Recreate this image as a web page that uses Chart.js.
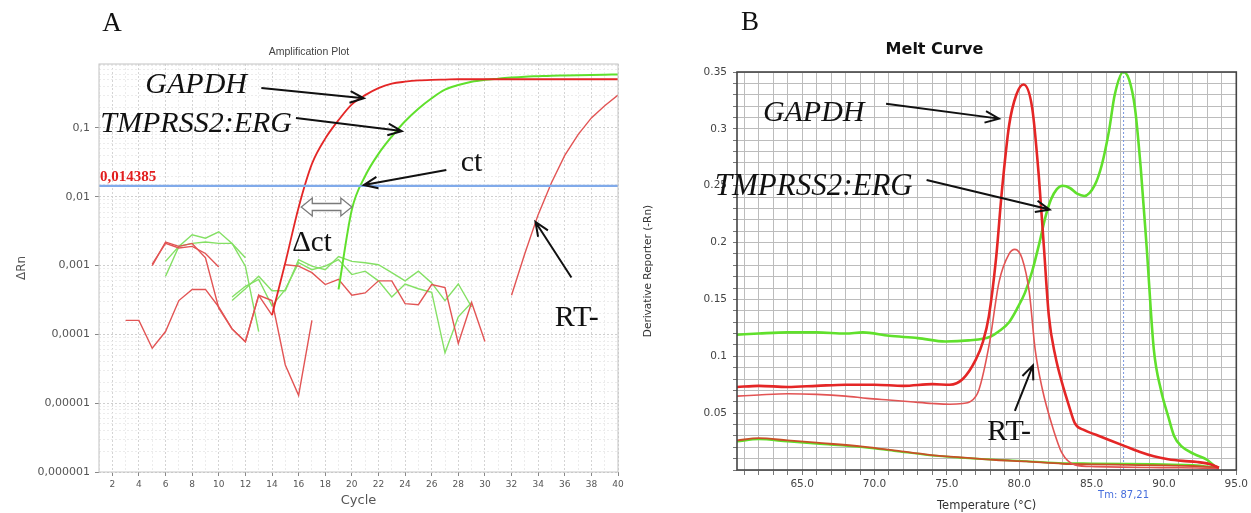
<!DOCTYPE html>
<html>
<head>
<meta charset="utf-8">
<script src="https://cdn.jsdelivr.net/npm/chart.js@4.4.1/dist/chart.umd.min.js"></script>
<style>
  html, body { margin: 0; padding: 0; background: #fff; }
  body { width: 1251px; height: 513px; position: relative; overflow: hidden; }
  .panel { position: absolute; top: 0; height: 513px; }
  #panelA { left: 0; width: 630px; }
  #panelB { left: 630px; width: 621px; }
</style>
</head>
<body>
<div class="panel" id="panelA"><canvas id="amp" width="630" height="513"></canvas></div>
<div class="panel" id="panelB"><canvas id="melt" width="621" height="513"></canvas></div>
<script>
// ---- A: amplification plot (cycle -> ΔRn, log scale) ----
const yTickValues = [1e-6, 1e-5, 1e-4, 1e-3, 1e-2, 1e-1];
const yTickLabels = ['0,000001', '0,00001', '0,0001', '0,001', '0,01', '0,1'];
const threshold = 0.014385;
const thresholdLabel = '0,014385';

// each series: first cycle + ΔRn per cycle (null = below zero, not drawn)
const gapdhBaseStart = 5;
const gapdhBase = [0.001, 0.0022, 0.0019, 0.0021, 0.0013, 0.00024, 0.00012, 0.000078, 0.00037, 0.00019];
const gapdhAmpStart = 14;
const gapdhAmp = [0.00019, 0.0011, 0.007, 0.03, 0.07, 0.13, 0.22, 0.3, 0.38, 0.44, 0.47, 0.49, 0.5, 0.505,
  0.51, 0.51, 0.51, 0.51, 0.51, 0.51, 0.51, 0.51, 0.51, 0.51, 0.51, 0.51, 0.51];
const redNoise1Start = 5;
const redNoise1 = [0.00105, 0.0021, 0.0018, 0.0019, 0.0015, 0.00095];
const redNoise2Start = 3;
const redNoise2 = [0.00016, 0.00016, 0.000063, 0.00011, 0.00031, 0.00045, 0.00045, 0.00025, 0.00012,
  0.000078, 0.00037, 0.00031, 0.000036, 0.000013, 0.00016];
const rtMinusStart = 15;
const rtMinus = [0.00103, 0.00098, 0.00079, 0.00053, 0.00063, 0.00037, 0.0004, 0.0006, 0.0006, 0.00028,
  0.00027, 0.00053, 0.00048, 0.000074, 0.00029, 0.000079, null,
  0.00037, 0.0015, 0.0055, 0.016, 0.04, 0.08, 0.14, 0.21, 0.3];
const greenNoise1Start = 6;
const greenNoise1 = [0.0007, 0.0019, 0.0028, 0.0025, 0.0031, 0.0021, 0.0013];
const greenNoise2Start = 6;
const greenNoise2 = [0.00115, 0.0019, 0.0021, 0.0022, 0.0021, 0.0021, 0.00098, 0.00011];
const greenNoise3Start = 11;
const greenNoise3 = [0.00031, 0.00046, 0.0007, 0.00043, 0.00043, 0.00122, 0.00098, 0.00087, 0.00135,
  0.00115, 0.0011, 0.00103, 0.00079, 0.0006, 0.00083, 0.00056, 0.00031, 0.00054, 0.00025];
const greenNoise4Start = 11;
const greenNoise4 = [0.00035, 0.0005, 0.00063, 0.00026, 0.00045, 0.0011, 0.00087, 0.00098, 0.00122,
  0.00074, 0.00083, 0.0006, 0.00035, 0.00054, 0.00046, 0.00041, 0.000054, 0.00018, 0.00029];
const tmprssAmpStart = 19;
const tmprssAmp = [0.00045, 0.0065, 0.02, 0.042, 0.075, 0.125, 0.19, 0.27, 0.36, 0.42,
  0.47, 0.5, 0.52, 0.54, 0.555, 0.565, 0.575, 0.58, 0.585, 0.59, 0.595, 0.6];

// ---- B: melt curve (temperature -> derivative reporter) ----
const gapdhMeltT = [60.5, 62, 64, 66, 68, 70, 72, 74, 75.2, 76.1, 77.0, 77.5, 77.9, 78.4, 78.8, 79.3, 79.8, 80.3,
  80.9, 81.35, 81.7, 82.05, 82.5, 82.95, 83.4, 83.85, 84.5, 85.3, 86.3, 87.3, 88.3, 89.3, 90.3, 91.3, 92.3, 93.2, 93.8];
const gapdhMelt = [0.073, 0.074, 0.073, 0.074, 0.075, 0.075, 0.074, 0.0755, 0.075, 0.08, 0.097, 0.113, 0.135, 0.186,
  0.245, 0.303, 0.33, 0.339, 0.318, 0.259, 0.197, 0.135, 0.1, 0.077, 0.058, 0.041, 0.035, 0.031, 0.026, 0.021,
  0.016, 0.012, 0.0095, 0.008, 0.007, 0.005, 0.002];
const rtMeltT = [60.5, 62, 64, 66, 68, 69.5, 71, 72.5, 74, 75.2, 76.1, 76.6, 77.2, 77.95, 78.6, 79.3, 79.7, 80.2,
  80.7, 81.1, 81.6, 82.3, 82.95, 83.85, 85.2, 87, 89, 91, 93, 93.8];
const rtMelt = [0.065, 0.066, 0.067, 0.0665, 0.065, 0.063, 0.0615, 0.06, 0.0585, 0.0578, 0.0585, 0.06, 0.07, 0.112,
  0.165, 0.19, 0.194, 0.186, 0.156, 0.106, 0.071, 0.038, 0.015, 0.0045, 0.003, 0.0025, 0.0022, 0.002, 0.0015, 0.001];
const tmprssMeltT = [60.5, 62, 64, 66, 68, 69.2, 71, 73, 74.9, 76.5, 77.95, 78.6, 79.3, 79.9, 80.4, 80.9, 81.4, 81.8,
  82.2, 82.6, 83.0, 83.5, 84.0, 84.5, 85.2, 85.7, 86.2, 86.6, 87.2, 87.6, 88.0, 88.4, 88.8, 89.3, 89.8, 90.3, 90.7,
  91.2, 92.1, 93.0, 93.5, 93.8];
const tmprssMelt = [0.119, 0.12, 0.121, 0.121, 0.12, 0.121, 0.118, 0.116, 0.113, 0.114, 0.117, 0.122, 0.13, 0.143,
  0.156, 0.175, 0.2, 0.222, 0.238, 0.247, 0.25, 0.248, 0.243, 0.241, 0.25, 0.268, 0.298, 0.33, 0.35, 0.343, 0.318,
  0.265, 0.197, 0.106, 0.07, 0.047, 0.03, 0.021, 0.014, 0.0088, 0.0035, 0.002];
const ntcMeltT = [60.5, 62, 64, 66, 69.2, 71.5, 73.8, 76, 78.4, 80.5, 83.0, 85, 87.5, 90, 92, 93.8];
const ntcRedMelt = [0.026, 0.028, 0.026, 0.024, 0.0206, 0.017, 0.0133, 0.011, 0.0088, 0.0075, 0.0055, 0.005,
  0.0045, 0.004, 0.0035, 0.002];
const ntcGreenMelt = [0.025, 0.027, 0.025, 0.023, 0.02, 0.0165, 0.013, 0.0108, 0.009, 0.0078, 0.006, 0.0058,
  0.0055, 0.005, 0.0045, 0.002];
const tm = 87.21;
const tmLabel = 'Tm: 87,21';

const RED = 'rgb(228,38,38)';
const RED_LIGHT = 'rgb(226,84,84)';
const GREEN = 'rgb(96,224,44)';
const GREEN_LIGHT = 'rgb(132,224,100)';
const SANS = "'DejaVu Sans', sans-serif";
const SERIF = "'Liberation Serif', serif";

const seg = (start, values) => values.map((v, i) => ({ x: start + i, y: v }));
const pairs = (xs, ys) => xs.map((x, i) => ({ x, y: ys[i] }));

function line(data, color, width, smooth, dash) {
  return {
    data, borderColor: color, backgroundColor: color, borderWidth: width,
    pointRadius: 0, fill: false, spanGaps: false, borderDash: dash || [],
    cubicInterpolationMode: smooth ? 'monotone' : 'default'
  };
}

function arrow(ctx, x1, y1, x2, y2) {
  const ang = Math.atan2(y2 - y1, x2 - x1), len = 15, spread = 0.4;
  ctx.beginPath();
  ctx.moveTo(x1, y1);
  ctx.lineTo(x2, y2);
  ctx.moveTo(x2 - len * Math.cos(ang - spread), y2 - len * Math.sin(ang - spread));
  ctx.lineTo(x2, y2);
  ctx.lineTo(x2 - len * Math.cos(ang + spread), y2 - len * Math.sin(ang + spread));
  ctx.strokeStyle = '#111';
  ctx.lineWidth = 2;
  ctx.stroke();
}

function hollowDouble(ctx, x1, x2, yc) {
  const h = 3.5, H = 9, L = 11;
  ctx.beginPath();
  ctx.moveTo(x1, yc);
  ctx.lineTo(x1 + L, yc - H);
  ctx.lineTo(x1 + L, yc - h);
  ctx.lineTo(x2 - L, yc - h);
  ctx.lineTo(x2 - L, yc - H);
  ctx.lineTo(x2, yc);
  ctx.lineTo(x2 - L, yc + H);
  ctx.lineTo(x2 - L, yc + h);
  ctx.lineTo(x1 + L, yc + h);
  ctx.lineTo(x1 + L, yc + H);
  ctx.closePath();
  ctx.fillStyle = '#fff';
  ctx.fill();
  ctx.strokeStyle = '#7a7a7a';
  ctx.lineWidth = 1.3;
  ctx.stroke();
}

// draws frame, notes and arrows on top of the plot
const notes = {
  id: 'notes',
  afterDraw(chart, args, o) {
    const { ctx, chartArea: a, scales: { x, y } } = chart;
    ctx.save();
    ctx.strokeStyle = o.box.color;
    ctx.lineWidth = o.box.width;
    ctx.strokeRect(a.left, a.top, a.right - a.left, a.bottom - a.top);
    (o.arrows || []).forEach(ar => arrow(ctx,
      x.getPixelForValue(ar.from[0]), y.getPixelForValue(ar.from[1]),
      x.getPixelForValue(ar.to[0]), y.getPixelForValue(ar.to[1])));
    if (o.double) hollowDouble(ctx, x.getPixelForValue(o.double.from), x.getPixelForValue(o.double.to),
      y.getPixelForValue(o.double.y));
    (o.texts || []).forEach(t => {
      ctx.font = t.font;
      ctx.fillStyle = t.color || '#111';
      ctx.textAlign = t.align || 'center';
      ctx.textBaseline = t.baseline || 'middle';
      const px = t.px !== undefined ? t.px : x.getPixelForValue(t.x);
      const py = t.py !== undefined ? t.py : y.getPixelForValue(t.y);
      ctx.fillText(t.text, px + (t.dx || 0), py + (t.dy || 0));
    });
    ctx.restore();
  }
};

const isDecade = v => yTickValues.findIndex(t => Math.abs(Math.log10(v) - Math.log10(t)) < 1e-6);

new Chart(document.getElementById('amp'), {
  type: 'line',
  data: {
    datasets: [
      line([{ x: 1, y: threshold }, { x: 40, y: threshold }], 'rgb(128,170,234)', 2.2),
      line(seg(gapdhAmpStart, gapdhAmp), RED, 1.8, true),
      line(seg(tmprssAmpStart, tmprssAmp), GREEN, 2, true),
      line(seg(rtMinusStart, rtMinus), RED_LIGHT, 1.4),
      line(seg(gapdhBaseStart, gapdhBase), RED_LIGHT, 1.4),
      line(seg(redNoise1Start, redNoise1), RED_LIGHT, 1.4),
      line(seg(redNoise2Start, redNoise2), RED_LIGHT, 1.4),
      line(seg(greenNoise1Start, greenNoise1), GREEN_LIGHT, 1.4),
      line(seg(greenNoise2Start, greenNoise2), GREEN_LIGHT, 1.4),
      line(seg(greenNoise3Start, greenNoise3), GREEN_LIGHT, 1.4),
      line(seg(greenNoise4Start, greenNoise4), GREEN_LIGHT, 1.4)
    ]
  },
  options: {
    responsive: false,
    animation: false,
    devicePixelRatio: 1,
    layout: { padding: { left: 0, right: 12, top: 0, bottom: 0 } },
    scales: {
      x: {
        type: 'linear', min: 1, max: 40,
        afterFit: s => { s.height = 41; },
        ticks: {
          stepSize: 1, autoSkip: false, maxRotation: 0, includeBounds: false, padding: 3,
          color: '#555', font: { family: SANS, size: 9 },
          callback: v => (v % 2 === 0 ? String(v) : '')
        },
        grid: {
          color: c => (c.tick && c.tick.value % 2 === 0 ? '#d4d4d4' : '#ececec'),
          tickColor: c => (c.tick && c.tick.value % 2 === 0 ? '#888' : 'rgba(0,0,0,0)'),
          tickLength: 4
        },
        border: { display: false, dash: [2, 2] },
        title: { display: true, text: 'Cycle', color: '#555', font: { family: SANS, size: 13 }, padding: { top: 0, bottom: 5 } }
      },
      y: {
        type: 'logarithmic', min: 1e-6, max: 0.85,
        afterFit: s => { s.width = 99; },
        ticks: {
          autoSkip: false, padding: 5, color: '#555', font: { family: SANS, size: 11 },
          callback: v => { const i = isDecade(v); return i >= 0 ? yTickLabels[i] : ''; }
        },
        grid: {
          color: c => (c.tick && isDecade(c.tick.value) >= 0 ? '#cfcfcf' : '#ececec'),
          tickColor: c => (c.tick && isDecade(c.tick.value) >= 0 ? '#888' : 'rgba(0,0,0,0)'),
          tickLength: 4
        },
        border: { display: false, dash: [2, 2] },
        title: { display: true, text: 'ΔRn', color: '#555', font: { family: SANS, size: 12 }, padding: { top: 15, bottom: 0 } }
      }
    },
    plugins: {
      legend: { display: false },
      tooltip: { enabled: false },
      title: {
        display: true, text: 'Amplification Plot', color: '#444',
        font: { family: "'Liberation Sans', sans-serif", size: 10.5, weight: 'normal' },
        padding: { top: 45.7, bottom: 5.7 }
      },
      notes: {
        box: { color: '#c4c4c4', width: 1 },
        arrows: [
          { from: [13.2, 0.38], to: [20.9, 0.27] },
          { from: [15.8, 0.14], to: [23.75, 0.09] },
          { from: [27.1, 0.0245], to: [20.9, 0.0148] },
          { from: [36.5, 0.00067], to: [33.8, 0.0043] }
        ],
        double: { from: 16.2, to: 20.0, y: 0.0071 },
        texts: [
          { text: 'A', px: 112, py: 24, font: `27px ${SERIF}` },
          { text: 'GAPDH', x: 8.3, y: 0.42, font: `italic 30px ${SERIF}` },
          { text: 'TMPRSS2:ERG', x: 8.3, y: 0.112, font: `italic 30px ${SERIF}` },
          { text: 'ct', x: 29.0, y: 0.031, font: `30px ${SERIF}` },
          { text: '\u0394ct', x: 17.0, y: 0.0021, font: `29px ${SERIF}` },
          { text: 'RT-', x: 36.9, y: 0.00017, font: `30px ${SERIF}` },
          { text: thresholdLabel, x: 1, y: threshold, dx: 1, dy: -1, align: 'left', baseline: 'bottom',
            color: 'rgb(226,30,30)', font: `bold 15px ${SERIF}` }
        ]
      }
    }
  },
  plugins: [notes]
});

new Chart(document.getElementById('melt'), {
  type: 'line',
  data: {
    datasets: [
      line(pairs(gapdhMeltT, gapdhMelt), RED, 2.6, true),
      line(pairs(rtMeltT, rtMelt), RED_LIGHT, 1.6, true),
      line(pairs(ntcMeltT, ntcRedMelt), 'rgb(200,80,40)', 1.8, true),
      line(pairs(tmprssMeltT, tmprssMelt), GREEN, 2.6, true),
      line(pairs(ntcMeltT, ntcGreenMelt), GREEN, 2, true),
      line([{ x: tm, y: 0 }, { x: tm, y: 0.35 }], 'rgb(120,150,225)', 1, false, [2, 2])
    ]
  },
  options: {
    responsive: false,
    animation: false,
    devicePixelRatio: 1,
    layout: { padding: { left: 0, right: 12, top: 0, bottom: 0 } },
    scales: {
      x: {
        type: 'linear', min: 60.5, max: 95,
        afterFit: s => { s.height = 43; },
        ticks: {
          stepSize: 1, autoSkip: false, maxRotation: 0, includeBounds: false, padding: 3,
          color: '#444', font: { family: SANS, size: 10.5 },
          callback: v => (Math.round(v) % 5 === 0 ? v.toFixed(1) : '')
        },
        grid: { color: '#bcbcbc', tickColor: '#777', tickLength: 5 },
        border: { display: false },
        title: { display: true, text: 'Temperature (°C)', color: '#333', font: { family: SANS, size: 11.5 }, padding: { top: 0, bottom: 0 } }
      },
      y: {
        type: 'linear', min: 0, max: 0.35,
        afterFit: s => { s.width = 107; },
        ticks: {
          stepSize: 0.01, autoSkip: false, padding: 6, color: '#444', font: { family: SANS, size: 10.5 },
          callback: v => { const c = Math.round(v * 100); return c > 0 && c % 5 === 0 ? String(c / 100) : ''; }
        },
        grid: { color: '#bcbcbc', tickColor: '#777', tickLength: 4 },
        border: { display: false },
        title: { display: true, text: 'Derivative Reporter (-Rn)', color: '#333', font: { family: SANS, size: 10.5 }, padding: { top: 11.7, bottom: 0 } }
      }
    },
    plugins: {
      legend: { display: false },
      tooltip: { enabled: false },
      title: {
        display: true, text: 'Melt Curve', color: '#111',
        font: { family: SANS, size: 16, weight: 'bold' },
        padding: { top: 40.4, bottom: 12.4 }
      },
      notes: {
        box: { color: '#444', width: 1.6 },
        arrows: [
          { from: [70.8, 0.322], to: [78.6, 0.309] },
          { from: [73.6, 0.255], to: [82.1, 0.229] },
          { from: [79.7, 0.052], to: [80.95, 0.092] }
        ],
        texts: [
          { text: 'B', px: 120, py: 23, font: `27px ${SERIF}` },
          { text: 'GAPDH', x: 65.8, y: 0.314, font: `italic 30px ${SERIF}` },
          { text: 'TMPRSS2:ERG', x: 65.8, y: 0.249, font: `italic 31px ${SERIF}` },
          { text: 'RT-', x: 79.3, y: 0.033, font: `30px ${SERIF}` },
          { text: tmLabel, x: tm, py: 495, color: 'rgb(70,110,220)', font: `10px ${SANS}` }
        ]
      }
    }
  },
  plugins: [notes]
});
</script>
</body>
</html>
